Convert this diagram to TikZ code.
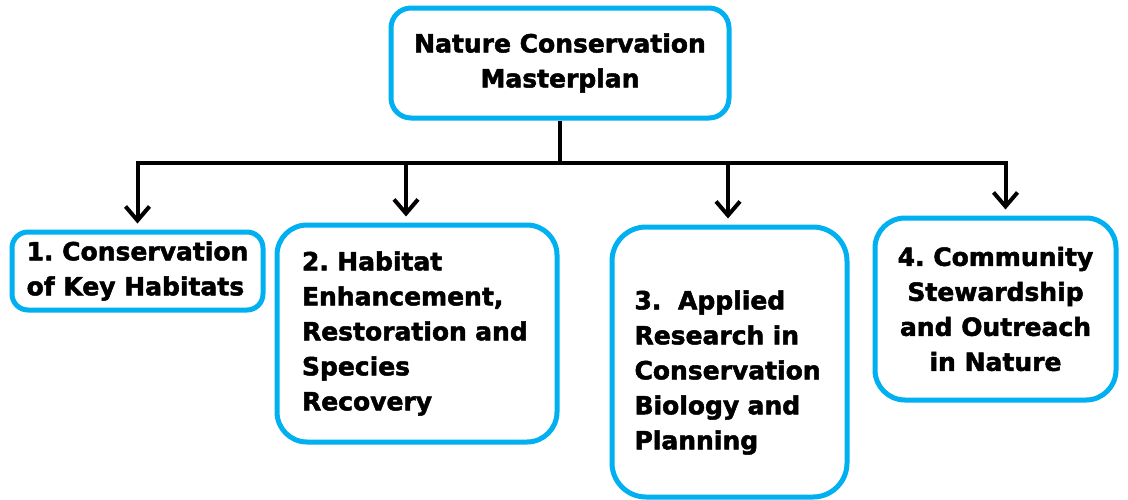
\documentclass[tikz,border=0pt]{standalone}
\usepackage{fontspec}
\setmainfont{DejaVu Sans}[BoldFeatures={FakeBold=2}]
\usetikzlibrary{arrows.meta}
\definecolor{boxblue}{RGB}{0,176,240}
\hyphenpenalty=10000
\frenchspacing

\begin{document}
\begin{tikzpicture}[x=0.5pt,y=-0.5pt,
	box/.style = {draw=boxblue, line width=2.5pt, fill=white, inner sep=0pt,
		font=\bfseries\fontsize{12.5}{17.5}\selectfont},
	link/.style = {line width=2pt},
	arr/.style = {link, -{Straight Barb[length=7pt,width=12pt]}, shorten >=3pt}]
	\useasboundingbox (0,0) rectangle (1128,499);
	\node [box, rounded corners=10pt, minimum width=169pt, minimum height=55pt, align=center] (top) at (560,63) {Nature Conservation\\Masterplan};
	\node [box, rounded corners=8pt, minimum width=125.5pt, minimum height=39pt, align=left] (hab) at (137.5,271) {1. Conservation\\of Key Habitats};
	\node [box, rounded corners=15pt, minimum width=140pt, minimum height=108.5pt, text width=115pt, align=left] (enh) at (417,333.5) {2. Habitat\\Enhancement,\\Restoration and\\Species\\Recovery};
	\node [box, rounded corners=17pt, minimum width=117.5pt, minimum height=135pt, text width=95pt, align=left] (res) at (729.5,362) {\rule{0pt}{20pt}3.~ Applied\\Research in\\Conservation\\Biology and\\Planning};
	\node [box, rounded corners=15pt, minimum width=120.5pt, minimum height=91pt, align=center] (com) at (995.5,309) {4. Community\\Stewardship\\and Outreach\\in Nature};
	\coordinate (bar) at (560,163);
	\draw [link] (top) -- (bar);
	\draw [arr] (bar) -| (hab);
	\draw [arr] (bar) -| ([xshift=-5.5pt]enh.north);
	\draw [arr] (bar) -| ([xshift=-0.75pt]res.north);
	\draw [arr] (bar) -| ([xshift=5pt]com.north);
\end{tikzpicture}
\end{document}
